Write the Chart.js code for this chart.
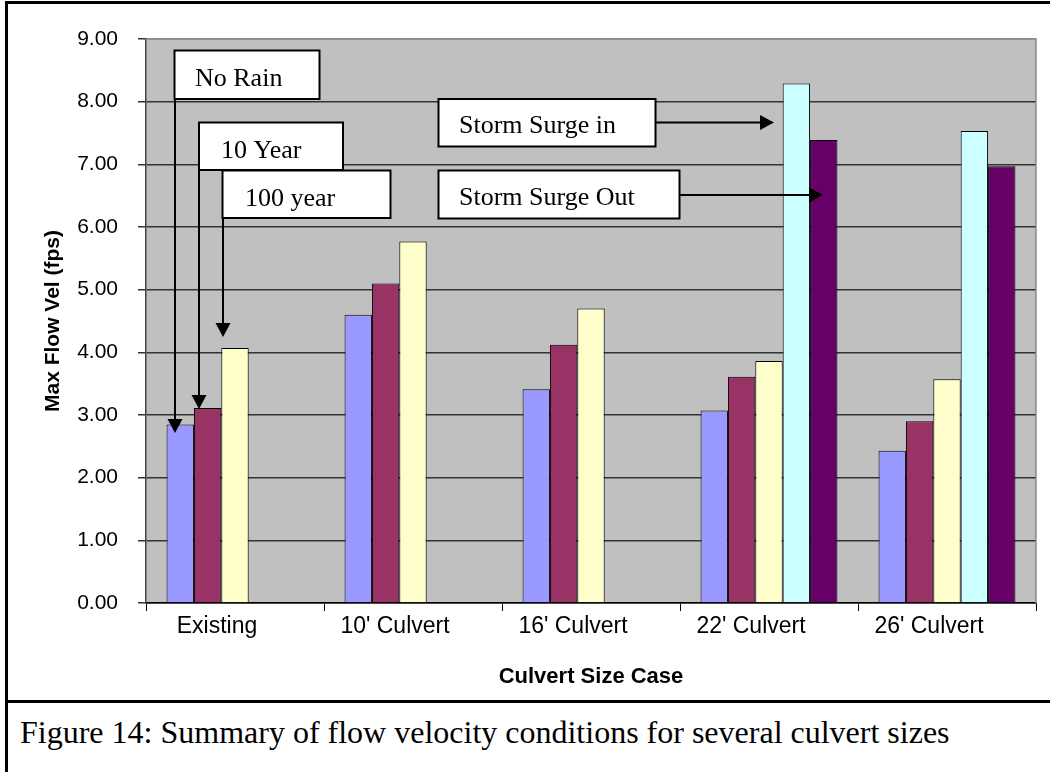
<!DOCTYPE html>
<html>
<head>
<meta charset="utf-8">
<script src="https://cdn.jsdelivr.net/npm/chart.js@4.4.1/dist/chart.umd.min.js"></script>
<style>
  body { margin: 0; background: #fff; width: 1050px; height: 772px; overflow: hidden; position: relative; }
  #chart { position: absolute; left: 0; top: 0; }
  .rule { position: absolute; background: #000; }
  #caption {
    position: absolute; left: 20px; top: 714px;
    font-family: "Times New Roman", "Liberation Serif", serif;
    font-size: 32px; line-height: 36px; color: #000; white-space: nowrap;
  }
</style>
</head>
<body>
<canvas id="chart" width="1050" height="700"></canvas>
<div class="rule" style="left:5px;top:1px;width:1045px;height:3px"></div>
<div class="rule" style="left:5px;top:1px;width:3px;height:771px"></div>
<div class="rule" style="left:5px;top:700px;width:1045px;height:3px"></div>
<div id="caption">Figure 14: Summary of flow velocity conditions for several culvert sizes</div>
<script>
// categorias e séries
const categories = ["Existing", "10' Culvert", "16' Culvert", "22' Culvert", "26' Culvert"];
const noRain = [2.85, 4.60, 3.41, 3.07, 2.43];
const tenYear = [3.11, 5.10, 4.12, 3.61, 2.90];
const hundredYear = [4.07, 5.77, 4.70, 3.86, 3.57];
const surgeIn = [null, null, null, 8.29, 7.53];
const surgeOut = [null, null, null, 7.39, 6.97];
const yTicks = [0, 1, 2, 3, 4, 5, 6, 7, 8, 9];

// caixas de texto com setas (posições em pixels do canvas)
const notes = [
    { text: "No Rain", box: [174.5, 50.5, 145, 48.5], tx: 195, ty: 86, from: [175, 99], to: [175, 433] },
    { text: "10 Year", box: [199, 122.5, 144, 47.5], tx: 221, ty: 158, from: [199, 170], to: [199, 409] },
    { text: "100 year", box: [222.5, 170.5, 168, 47.5], tx: 245, ty: 206, from: [223, 218], to: [223, 337] },
    { text: "Storm Surge in", box: [438.5, 99, 217, 47.5], tx: 459, ty: 133, from: [655, 122.5], to: [774, 122.5] },
    { text: "Storm Surge Out", box: [438.5, 170.5, 241, 48], tx: 459, ty: 205, from: [679, 195], to: [823, 195] }
];

const plotBackground = {
    id: "plotBackground",
    beforeDraw(chart) {
        const { ctx, chartArea: a } = chart;
        ctx.save();
        ctx.fillStyle = "#c0c0c0";
        ctx.fillRect(a.left, a.top, a.right - a.left, a.bottom - a.top);
        ctx.restore();
    },
    afterDraw(chart) {
        const { ctx, chartArea: a } = chart;
        ctx.save();
        ctx.strokeStyle = "#8a8a8a";
        ctx.lineWidth = 1.5;
        ctx.beginPath();
        ctx.moveTo(a.left, a.top);
        ctx.lineTo(a.right, a.top);
        ctx.lineTo(a.right, a.bottom);
        ctx.stroke();
        ctx.restore();
    }
};

function arrow(ctx, from, to) {
    const ang = Math.atan2(to[1] - from[1], to[0] - from[0]);
    const len = 14, half = 7.5;
    const bx = to[0] - len * Math.cos(ang), by = to[1] - len * Math.sin(ang);
    ctx.beginPath();
    ctx.moveTo(from[0], from[1]);
    ctx.lineTo(bx, by);
    ctx.stroke();
    ctx.beginPath();
    ctx.moveTo(to[0], to[1]);
    ctx.lineTo(bx + half * Math.sin(ang), by - half * Math.cos(ang));
    ctx.lineTo(bx - half * Math.sin(ang), by + half * Math.cos(ang));
    ctx.closePath();
    ctx.fill();
}

const callouts = {
    id: "callouts",
    afterDatasetsDraw(chart) {
        const ctx = chart.ctx;
        ctx.save();
        ctx.strokeStyle = "#000";
        ctx.fillStyle = "#000";
        ctx.lineWidth = 2;
        notes.forEach(n => arrow(ctx, n.from, n.to));
        ctx.font = '26px "Times New Roman", "Liberation Serif", serif';
        ctx.textBaseline = "alphabetic";
        notes.forEach(n => {
            const [x, y, w, h] = n.box;
            ctx.fillStyle = "#fff";
            ctx.fillRect(x, y, w, h);
            ctx.strokeRect(x, y, w, h);
            ctx.fillStyle = "#000";
            ctx.fillText(n.text, n.tx, n.ty);
        });
        ctx.restore();
    }
};

const barStyle = (label, data, color) => ({
    label, data,
    backgroundColor: color,
    borderColor: "#000",
    borderWidth: 1,
    categoryPercentage: 0.769,
    barPercentage: 1
});

new Chart(document.getElementById("chart").getContext("2d"), {
    type: "bar",
    data: {
        labels: categories,
        datasets: [
            barStyle("No Rain", noRain, "#9999ff"),
            barStyle("10 Year", tenYear, "#993366"),
            barStyle("100 year", hundredYear, "#ffffcc"),
            barStyle("Storm Surge in", surgeIn, "#ccffff"),
            barStyle("Storm Surge Out", surgeOut, "#660066")
        ]
    },
    options: {
        responsive: false,
        animation: false,
        layout: { padding: { top: 39, right: 14, left: 0, bottom: 0 } },
        plugins: { legend: { display: false }, tooltip: { enabled: false } },
        scales: {
            x: {
                afterFit: s => { s.height = 97; },
                grid: { drawOnChartArea: false, drawTicks: true, tickLength: 8, color: "#000", offset: true },
                border: { display: true, color: "#000", width: 1.5 },
                ticks: {
                    color: "#000", padding: 2, labelOffset: -18, maxRotation: 0, autoSkip: false,
                    font: { family: "Arial, 'Liberation Sans', sans-serif", size: 23 }
                },
                title: {
                    display: true, text: "Culvert Size Case", color: "#000",
                    padding: { top: 0, bottom: 10 },
                    font: { family: "Arial, 'Liberation Sans', sans-serif", size: 22, weight: "bold" }
                }
            },
            y: {
                min: 0, max: 9,
                afterFit: s => { s.width = 146; },
                afterBuildTicks: s => { s.ticks = yTicks.map(v => ({ value: v })); },
                grid: {
                    color: c => (c.tick && c.tick.value === 9 ? "#8a8a8a" : "#333"),
                    tickColor: "#333", lineWidth: 1.5, tickLength: 8
                },
                border: { display: true, color: "#444", width: 1.5 },
                ticks: {
                    color: "#000", padding: 20,
                    callback: v => Number(v).toFixed(2),
                    font: { family: "Arial, 'Liberation Sans', sans-serif", size: 21 }
                },
                title: {
                    display: true, text: "Max Flow Vel (fps)", color: "#000",
                    padding: { top: 41, bottom: 0 },
                    font: { family: "Arial, 'Liberation Sans', sans-serif", size: 21, weight: "bold" }
                }
            }
        }
    },
    plugins: [plotBackground, callouts]
});
</script>
</body>
</html>
